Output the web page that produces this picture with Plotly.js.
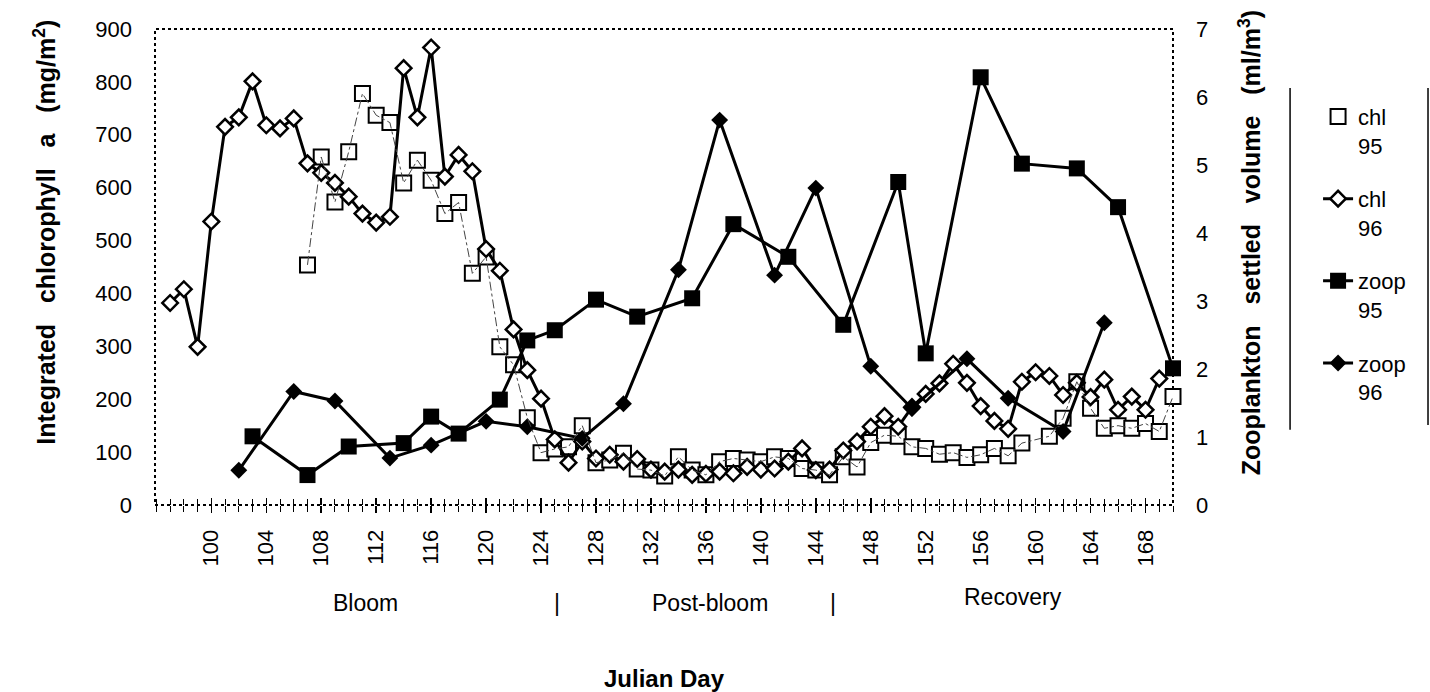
<!DOCTYPE html>
<html>
<head>
<meta charset="utf-8">
<script src="https://cdn.plot.ly/plotly-3.0.1.min.js"></script>
<style>html,body{margin:0;padding:0;background:#fff;}#chart{width:1430px;height:692px;}</style>
</head>
<body>
<div id="chart"></div>
<script>
// ---- data (Julian day, value) ----
const chl95Days = [107,108,109,110,111,112,113,114,115,116,117,118,119,120,121,122,123,124,125,126,127,128,129,130,131,132,133,134,135,136,137,138,139,140,141,142,143,144,145,146,147,148,149,150,151,152,153,154,155,156,157,158,159,161,162,163,164,165,166,167,168,169,170];
const chl95 = [454,658,573,668,778,737,723,609,652,614,551,572,438,469,299,265,165,99,106,110,150,80,85,98,68,66,55,91,66,57,82,88,85,82,91,88,69,66,57,91,72,118,132,130,110,107,96,99,90,95,107,93,117,130,164,233,183,145,150,145,154,139,205];

const chl96Days = [97,98,99,100,101,102,103,104,105,106,107,108,109,110,111,112,113,114,115,116,117,118,119,120,121,122,123,124,125,126,127,128,129,130,131,132,133,134,135,136,137,138,139,140,141,142,143,144,145,146,147,148,149,150,151,152,153,154,155,156,157,158,159,160,161,162,163,164,165,166,167,168,169];
const chl96 = [382,408,299,536,715,733,801,718,712,731,646,628,609,583,551,534,545,826,733,865,621,662,631,484,443,332,255,201,124,80,120,88,95,82,87,67,63,67,57,59,63,60,72,67,69,82,107,66,67,103,120,148,168,148,185,210,230,267,231,187,159,144,233,251,244,208,231,204,237,180,205,180,239];

const zoop95Days = [103,107,110,114,116,118,121,123,125,128,131,135,138,142,146,150,152,156,159,163,166,170];
const zoop95 = [1.01,0.44,0.86,0.91,1.30,1.05,1.55,2.42,2.57,3.02,2.77,3.04,4.13,3.65,2.65,4.75,2.23,6.29,5.02,4.95,4.38,2.01];

const zoop96Days = [102,106,109,113,116,120,123,127,130,134,137,141,144,148,151,155,158,162,165];
const zoop96 = [0.51,1.67,1.53,0.69,0.88,1.23,1.15,0.98,1.49,3.46,5.66,3.38,4.66,2.04,1.42,2.15,1.57,1.08,2.68];

const tickDays = [100,104,108,112,116,120,124,128,132,136,140,144,148,152,156,160,164,168];
const phaseLabels = ['Bloom','|','Post-bloom','|','Recovery'];
const seriesNames = ['chl<br>95','chl<br>96','zoop<br>95','zoop<br>96'];

const NB = '\u00a0';
const ZW = '\u200b';
const FONT = 'Liberation Sans, Arial, Helvetica, sans-serif';
const XRANGE = [95.9, 170];
const G = NB.repeat(3);

const traces = [
  {x: chl95Days, y: chl95, xaxis: 'x2', mode: 'lines', showlegend: false, hoverinfo: 'skip',
   line: {color: '#444', width: 1, dash: 'dashdot'}, cliponaxis: false},
  {x: chl95Days, y: chl95, mode: 'markers', name: seriesNames[0], legendgroup: 'g1',
   marker: {symbol: 'square', size: 15, color: '#fff', line: {color: '#000', width: 2}}, cliponaxis: false},
  {x: chl96Days, y: chl96, mode: 'lines+markers', name: seriesNames[1], legendgroup: 'g2',
   line: {color: '#000', width: 3},
   marker: {symbol: 'diamond', size: 12, color: '#fff', line: {color: '#000', width: 2.5}}, cliponaxis: false},
  {x: zoop95Days, y: zoop95, yaxis: 'y2', mode: 'lines+markers', name: seriesNames[2], legendgroup: 'g3',
   line: {color: '#000', width: 3},
   marker: {symbol: 'square', size: 16, color: '#000'}, cliponaxis: false},
  {x: zoop96Days, y: zoop96, yaxis: 'y2', mode: 'lines+markers', name: seriesNames[3], legendgroup: 'g4',
   line: {color: '#000', width: 3},
   marker: {symbol: 'diamond', size: 13, color: '#000'}, cliponaxis: false}
];

const phaseX = [0.2063, 0.3949, 0.5452, 0.666, 0.8428];
const phaseY = [-0.206, -0.206, -0.206, -0.206, -0.193];

const layout = {
  width: 1430, height: 692,
  margin: {l: 155, r: 257, t: 29, b: 187},
  paper_bgcolor: '#fff', plot_bgcolor: '#fff',
  font: {family: FONT, size: 22, color: '#000'},
  showlegend: true,
  xaxis: {
    range: XRANGE, tickmode: 'array', tickvals: tickDays, ticktext: tickDays.map(String),
    tickangle: -90, ticks: 'outside', ticklen: 7, tickwidth: 1.5, tickcolor: '#000',
    minor: {tickmode: 'linear', tick0: 0, dtick: 1, ticks: 'outside', ticklen: 6, tickwidth: 1, tickcolor: '#000'},
    showline: false, showgrid: false, zeroline: false, ticklabelstandoff: 8,
    tickfont: {size: 22},
    title: {text: 'Julian Day', font: {size: 24, weight: 'bold'}, standoff: 104}
  },
  xaxis2: {
    overlaying: 'x', anchor: 'y', side: 'bottom', range: XRANGE,
    tickmode: 'array', tickvals: tickDays, ticks: 'inside', ticklen: 7, tickwidth: 1.5, tickcolor: '#000',
    minor: {tickmode: 'linear', tick0: 0, dtick: 1, ticks: 'inside', ticklen: 6, tickwidth: 1, tickcolor: '#000'},
    showticklabels: false, showline: false, showgrid: false, zeroline: false
  },
  yaxis: {
    range: [0, 900], tick0: 0, dtick: 100, ticks: '', showline: false, showgrid: false, zeroline: false,
    ticklabelstandoff: 22, tickfont: {size: 22},
    title: {text: ZW + NB.repeat(10) + 'Integrated' + G + 'chlorophyll' + G + 'a' + G + '(mg/m<sup>2</sup>)',
            font: {size: 25, weight: 'bold'}, standoff: 32}
  },
  yaxis2: {
    overlaying: 'y', side: 'right', range: [0, 7], tick0: 0, dtick: 1, ticks: '',
    showline: false, showgrid: false, zeroline: false, ticklabelstandoff: 22, tickfont: {size: 22},
    title: {text: ZW + NB.repeat(7) + 'Zooplankton' + G + 'settled' + G + 'volume' + G + '(ml/m<sup>3</sup>)',
            font: {size: 25, weight: 'bold'}, standoff: 35}
  },
  legend: {
    x: 1.1425, y: 0.86, xanchor: 'left', yanchor: 'top', bgcolor: 'rgba(0,0,0,0)', borderwidth: 0,
    font: {size: 22, family: FONT}, valign: 'top', tracegroupgap: 22, itemwidth: 30, itemclick: false
  },
  shapes: [
    {type: 'rect', xref: 'paper', yref: 'paper', x0: 0, x1: 1, y0: 0, y1: 1, layer: 'below',
     line: {color: '#000', width: 2, dash: 'dot'}},
    {type: 'line', xref: 'paper', yref: 'paper', x0: 1.115, x1: 1.115, y0: 0.158, y1: 0.876,
     line: {color: '#000', width: 1.5}},
    {type: 'line', xref: 'paper', yref: 'paper', x0: 1.2505, x1: 1.2505, y0: 0.168, y1: 0.876,
     line: {color: '#000', width: 1.5}}
  ],
  annotations: phaseLabels.map((t, i) => ({
    text: t, xref: 'paper', yref: 'paper', x: phaseX[i], y: phaseY[i],
    xanchor: 'center', yanchor: 'middle', showarrow: false, font: {size: 23, family: FONT}
  }))
};

Plotly.newPlot('chart', traces, layout, {displayModeBar: false, staticPlot: true});
</script>
</body>
</html>
